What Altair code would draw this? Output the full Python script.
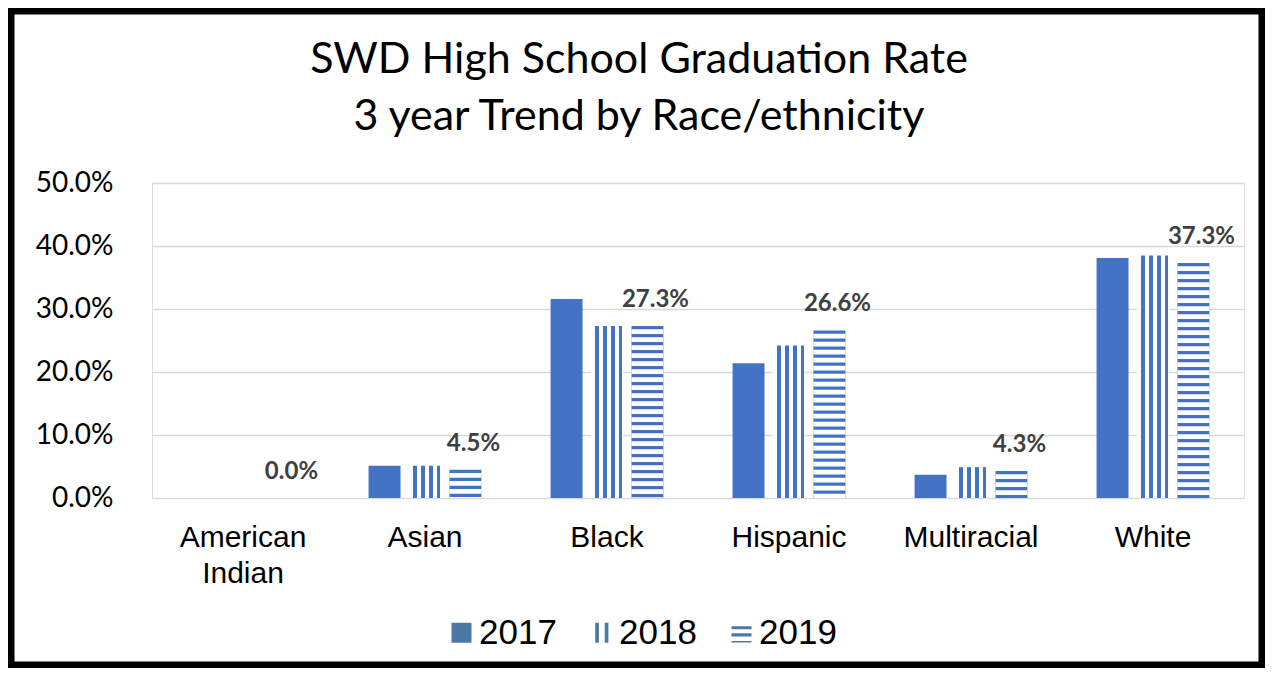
import altair as alt
import pandas as pd

# ---- data ----
categories = ["American Indian", "Asian", "Black", "Hispanic", "Multiracial", "White"]
years = ["2017", "2018", "2019"]
rate_2017 = [0.0, 0.051, 0.316, 0.214, 0.037, 0.381]
rate_2018 = [0.0, 0.051, 0.273, 0.242, 0.049, 0.385]
rate_2019 = [0.0, 0.045, 0.273, 0.266, 0.043, 0.373]
y_ticks = [0.0, 0.1, 0.2, 0.3, 0.4, 0.5]

BLUE = "#4472C4"
W, H = 1092, 315
PAD_L, PAD_T, PAD_R, PAD_B = 144, 175, 21, 170

rows = []
for y, vals in zip(years, [rate_2017, rate_2018, rate_2019]):
    for c, v in zip(categories, vals):
        rows.append({"category": c, "year": y, "rate": v})
df = pd.DataFrame(rows)

# white gaps of the horizontal-stripe pattern on the 2019 bars (8px period)
px_per_unit = H / 0.5
period = 8 / px_per_unit
blue_h = 3.3 / px_per_unit
gap_h = 4.7 / px_per_unit
stripe_rows = []
for c, v in zip(categories, rate_2019):
    top = v - blue_h
    while top > 0:
        stripe_rows.append({"category": c, "year": "2019", "s_top": top, "s_bot": max(0.0, top - gap_h)})
        top -= period
stripes = pd.DataFrame(stripe_rows)

x_enc = alt.X("category:N", sort=categories, title=None,
              scale=alt.Scale(paddingInner=0.38, paddingOuter=0.19),
              axis=alt.Axis(labelFont="Liberation Sans", labelFontSize=30, labelColor="black",
                            labelAngle=0, labelPadding=24, labelLineHeight=36, ticks=False,
                            domain=False, grid=False,
                            labelExpr="datum.value == 'American Indian' ? ['American', 'Indian'] : datum.value"))
xo_enc = alt.XOffset("year:N", sort=years, scale=alt.Scale(domain=years, paddingInner=0.21, paddingOuter=0))
y_enc = alt.Y("rate:Q", title=None,
              scale=alt.Scale(domain=[0, 0.5], nice=False),
              axis=alt.Axis(values=y_ticks, format=".1%", labelFont="Lato", labelFontSize=28,
                            labelColor="black", labelPadding=39, ticks=False, domain=False,
                            gridColor="#d9d9d9", gridWidth=1.5))

base = alt.Chart(df)

# stops for vertical stripes (2018)
stops = []
edges = [0.0, 0.11, 0.235, 0.36, 0.485, 0.61, 0.735, 0.86, 0.985, 1.0]
for i in range(len(edges) - 1):
    col = "white" if i % 2 == 0 else BLUE
    stops.append(alt.GradientStop(offset=edges[i], color=col))
    stops.append(alt.GradientStop(offset=edges[i + 1], color=col))
vgrad = alt.LinearGradient(gradient="linear", stops=stops, x1=0, x2=1, y1=0, y2=0)

bars17 = base.transform_filter("datum.year == '2017'").mark_bar(color=BLUE).encode(
    x=x_enc, xOffset=xo_enc, y=y_enc)
bars18 = base.transform_filter("datum.year == '2018'").mark_bar(fill=vgrad).encode(
    x=x_enc, xOffset=xo_enc, y=y_enc)
bars19 = base.transform_filter("datum.year == '2019'").mark_bar(color=BLUE).encode(
    x=x_enc, xOffset=xo_enc, y=y_enc)
gaps19 = alt.Chart(stripes).mark_bar(color="white").encode(
    x=alt.X("category:N", sort=categories), xOffset=alt.XOffset("year:N", sort=years),
    y=alt.Y("s_top:Q"), y2="s_bot:Q")

labels = base.transform_filter("datum.year == '2019'").mark_text(
    font="Lato", fontSize=24, fontWeight="bold", color="#404040", baseline="alphabetic", dy=-19, dx=8
).encode(x=x_enc, xOffset=xo_enc, y=y_enc, text=alt.Text("rate:Q", format=".1%"))

sym_paths = [
    "M-1,-1H1V1H-1Z",
    "M-0.63,-1H-0.26V1H-0.63Z M0.32,-1H0.69V1H0.32Z",
    "M-1,-0.65H1V-0.34H-1Z M-1,0.05H1V0.37H-1Z M-1,0.82H1V0.97H-1Z",
]
legend_pts = base.mark_point(filled=True, opacity=0).encode(
    x=x_enc, xOffset=xo_enc, y=y_enc,
    shape=alt.Shape("year:N", sort=years,
                    scale=alt.Scale(domain=years, range=sym_paths),
                    legend=alt.Legend(title=None, orient="none", direction="horizontal",
                                      legendX=292, legendY=432, padding=0,
                                      symbolSize=400, symbolFillColor=BLUE, symbolStrokeWidth=0,
                                      symbolOpacity=1, labelFont="Liberation Sans", labelFontSize=35,
                                      labelColor="black", labelOffset=0, columnPadding=27)))

frame = alt.Chart(pd.DataFrame({"f": [1]})).mark_rect(
    fill=None, stroke="black", strokeWidth=7
).encode(x=alt.value(-PAD_L + 3), x2=alt.value(W + PAD_R - 3),
         y=alt.value(-PAD_T + 3), y2=alt.value(H + PAD_B - 3))

chart = alt.layer(bars17, bars18, bars19, gaps19, labels, legend_pts, frame).properties(
    width=W, height=H,
    autosize=alt.AutoSizeParams(type="none"),
    padding={"left": PAD_L, "top": PAD_T, "right": PAD_R, "bottom": PAD_B},
    title=alt.TitleParams(text=["SWD High School Graduation Rate", "3 year Trend by Race/ethnicity"],
                          font="Lato", fontSize=43, fontWeight="normal", color="black",
                          lineHeight=57, anchor="middle", dx=-59, offset=-131),
).configure_view(stroke=None).configure(background="white")

chart.save("out.html", embed_options={"renderer": "svg", "actions": False})
